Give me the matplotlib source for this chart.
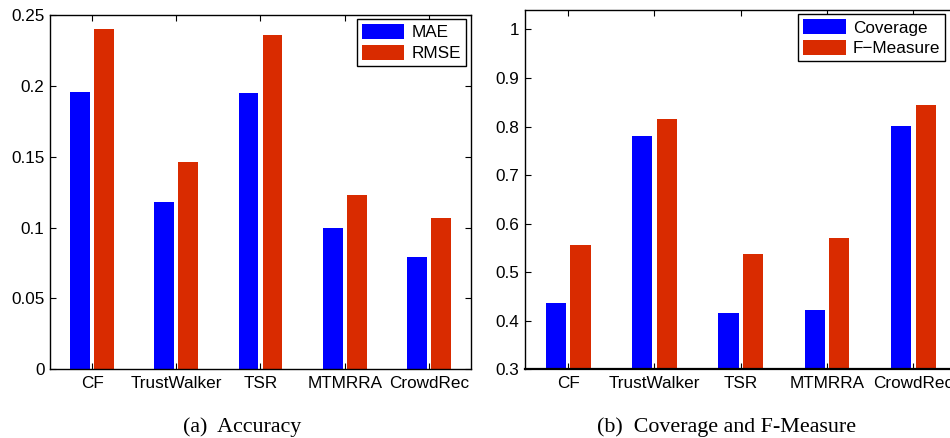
import numpy as np
from matplotlib import pyplot as plt

methods = ["CF", "TrustWalker", "TSR", "MTMRRA", "CrowdRec"]

mae = [0.196, 0.118, 0.195, 0.100, 0.079]
rmse = [0.240, 0.146, 0.236, 0.123, 0.107]

coverage = [0.436, 0.781, 0.416, 0.422, 0.802]
fmeasure = [0.555, 0.816, 0.537, 0.570, 0.845]

BLUE = "#0000ff"
RED = "#d92b00"
FS = 12.3

plt.rcParams['font.family'] = ['Liberation Sans', 'DejaVu Sans']

fig = plt.figure(figsize=(9.5, 4.38), dpi=100)

ax1 = fig.add_axes([0.0526, 0.1568, 0.4432, 0.809])
ax2 = fig.add_axes([0.5526, 0.1568, 0.4542, 0.8204])

x = np.arange(1, len(methods) + 1)
w = 0.235
off = 0.143


def style(ax, first, second, labels, ylim, yticks, anchor):
    ax.bar(x - off, first, w, color=BLUE, label=labels[0])
    ax.bar(x + off, second, w, color=RED, label=labels[1])
    ax.set_xlim(0.5, 5.5)
    ax.set_ylim(*ylim)
    ax.set_xticks(x)
    ax.set_xticklabels(methods, fontsize=FS)
    ax.set_yticks(yticks)
    ax.set_yticklabels([("%.2f" % v).rstrip('0').rstrip('.') for v in yticks], fontsize=FS)
    ax.tick_params(direction='in', top=True, right=True, length=4, width=0.8)
    ax.tick_params(axis='y', pad=4)
    ax.tick_params(axis='x', pad=5)
    for s in ax.spines.values():
        s.set_linewidth(1.0)
    leg = ax.legend(loc='upper right', bbox_to_anchor=anchor, fontsize=FS,
                    fancybox=False, framealpha=1, edgecolor='black',
                    handlelength=2.5, handleheight=1.0, borderaxespad=0.0,
                    borderpad=0.3, labelspacing=0.25, handletextpad=0.4)
    leg.get_frame().set_linewidth(1.0)


style(ax1, mae, rmse, ["MAE", "RMSE"], (0, 0.25),
      [0, 0.05, 0.1, 0.15, 0.2, 0.25], (0.988, 0.989))
style(ax2, coverage, fmeasure, ["Coverage", "F\u2212Measure"], (0.3, 1.04),
      [0.3, 0.4, 0.5, 0.6, 0.7, 0.8, 0.9, 1.0], (0.9745, 0.989))
ax2.spines['bottom'].set_linewidth(1.6)

fig.text(0.255, 0.014, "(a)  Accuracy", ha='center', va='baseline',
         fontsize=15.8, family='Liberation Serif')
fig.text(0.765, 0.014, "(b)  Coverage and F-Measure", ha='center', va='baseline',
         fontsize=15.8, family='Liberation Serif')

fig.savefig("out.png", dpi=100)
